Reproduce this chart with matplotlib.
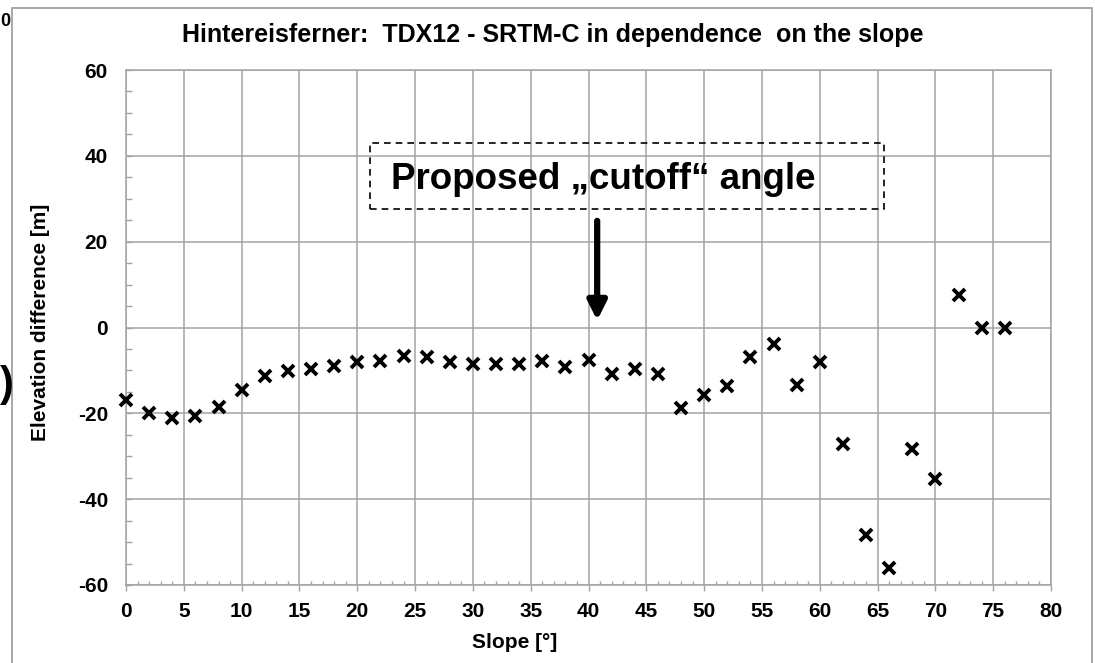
import matplotlib
from matplotlib import pyplot as plt
from matplotlib.patches import Rectangle
from matplotlib.ticker import MultipleLocator

font = {'family': 'Liberation Sans', 'weight': 'bold', 'size': 15}
matplotlib.rc('font', **font)
matplotlib.rcParams['axes.unicode_minus'] = False

# slope classes [deg] and mean elevation difference TDX12 - SRTM-C [m]
slope = [0, 2, 4, 6, 8, 10, 12, 14, 16, 18, 20, 22, 24, 26, 28, 30, 32, 34, 36, 38,
         40, 42, 44, 46, 48, 50, 52, 54, 56, 58, 60, 62, 64, 66, 68, 70, 72, 74, 76]
elev_diff = [-17.0, -20.0, -21.2, -20.7, -18.5, -14.5, -11.3, -10.1, -9.6, -9.0,
             -8.1, -7.8, -6.6, -6.9, -8.0, -8.5, -8.5, -8.5, -7.8, -9.3,
             -7.5, -10.8, -9.7, -10.8, -18.8, -15.7, -13.6, -6.8, -3.8, -13.4,
             -8.0, -27.2, -48.3, -56.0, -28.2, -35.2, 7.6, 0.0, 0.0]

title = "Hintereisferner:  TDX12 - SRTM-C in dependence  on the slope"
note = "Proposed \u201ecutoff\u201c angle"
W, H = 1095, 663

fig = plt.figure(figsize=(W / 100, H / 100), dpi=100)
# slide frame around the chart (screenshot context)
fig.patches.append(Rectangle((12 / W, -0.01), 1 - 15 / W, 1 - 8 / H + 0.01,
                             transform=fig.transFigure, fill=False,
                             edgecolor='#9a9a9a', lw=1.2))
fig.text(0, 1 - 22 / H, "0", fontsize=13, ha='left', va='center')
fig.text(0, 1 - 385 / H, ")", fontsize=30, ha='left', va='center')

ax = fig.add_axes([126 / W, 1 - 585 / H, (1051 - 126) / W, (585 - 70) / H])

ax.plot(slope, elev_diff, linestyle='none', marker='x', color='black',
        markersize=9, markeredgewidth=2.8, clip_on=False, zorder=3)

ax.set_xlim(0, 80)
ax.set_ylim(-60, 60)
ax.xaxis.set_major_locator(MultipleLocator(5))
ax.xaxis.set_minor_locator(MultipleLocator(1))
ax.yaxis.set_major_locator(MultipleLocator(20))
ax.yaxis.set_minor_locator(MultipleLocator(5))
ax.grid(True, which='major', color='#a3a3a3', lw=1.1)
ax.set_axisbelow(True)
for s in ax.spines.values():
    s.set_color('#a3a3a3')
    s.set_linewidth(1.1)
ax.tick_params(which='both', colors='#a3a3a3', labelcolor='black', width=1)
ax.tick_params(axis='y', which='both', direction='in', length=4, pad=13,
               labelsize=15)
ax.tick_params(axis='x', which='major', direction='out', length=4.5, pad=8,
               labelsize=15)
ax.tick_params(axis='x', which='minor', direction='in', length=3)

fig.text(515 / W, 1 - 643 / H, "Slope [\u00b0]", fontsize=15,
         ha='center', va='center')
fig.text(41 / W, 1 - 322 / H, "Elevation difference [m]", fontsize=15,
         rotation=90, ha='center', va='center')
fig.text(553 / W, 1 - 35 / H, title, ha='center', va='center', fontsize=18)

# annotation box and arrow
ax.add_patch(Rectangle((21.1, 27.6), 44.5, 15.4, fill=False, edgecolor='black',
                       linestyle=(0, (4, 3)), lw=1.2, zorder=4))
ax.text(22.9, 32.3, note, fontsize=26.5, ha='left', va='baseline', zorder=5)
ax.annotate('', xy=(40.75, 1.0), xytext=(40.75, 25.5),
            arrowprops=dict(arrowstyle='-|>', color='black', lw=4.5,
                            mutation_scale=28), zorder=5)

plt.savefig("out.png", format="png")
